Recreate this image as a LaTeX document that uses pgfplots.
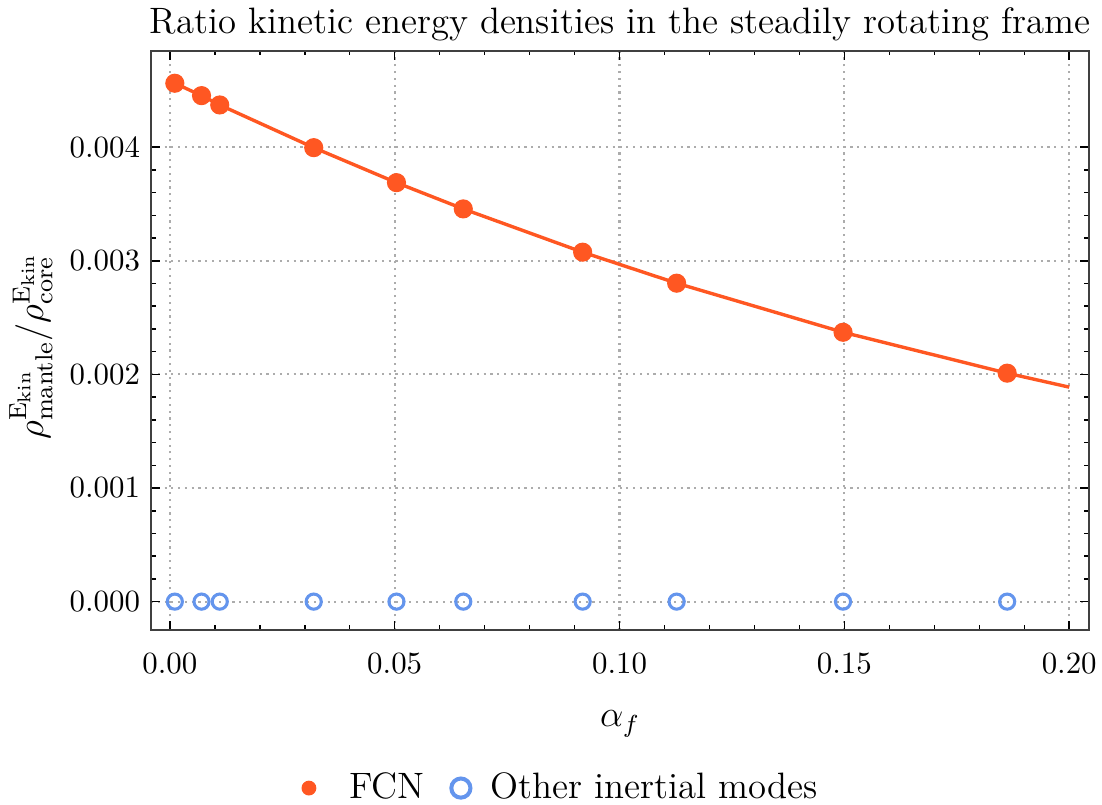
\documentclass[border=0pt]{standalone}
\usepackage{pgfplots}
\usepackage{pgfplotstable}
\pgfplotsset{compat=1.18}
\definecolor{fcn}{RGB}{255,87,34}
\definecolor{other}{RGB}{100,149,237}

% FCN kinetic-energy ratio
\pgfplotstableread{
x y
0.00111 0.004563
0.00705 0.004454
0.0111  0.004372
0.0320  0.003996
0.0504  0.003688
0.06525 0.003457
0.0918  0.003076
0.1127  0.002803
0.1497  0.002371
0.1862  0.002011
}\fcndata

% fitted curve
\pgfplotstableread{
x y
0.00111 0.004563
0.00705 0.004454
0.0111  0.004372
0.0320  0.003996
0.0504  0.003688
0.06525 0.003457
0.0918  0.003076
0.1127  0.002803
0.1497  0.002371
0.1862  0.002011
0.2000  0.001888
}\fitdata

% other inertial modes
\pgfplotstableread{
x y
0.00111 0
0.00705 0
0.0111  0
0.0320  0
0.0504  0
0.06525 0
0.0918  0
0.1127  0
0.1497  0
0.1862  0
}\otherdata

\newcommand{\lblfont}{\fontsize{11.9}{14.5}\selectfont}

\begin{document}
\begin{tikzpicture}
\begin{axis}[
    scale only axis,
    width=303.9pt, height=187.7pt,
    xmin=-0.0042, xmax=0.2044,
    ymin=-0.00025, ymax=0.00485,
    xtick={0,0.05,0.1,0.15,0.2},
    ytick={0,0.001,0.002,0.003,0.004},
    minor x tick num=4, minor y tick num=4,
    tick align=inside,
    major tick length=3pt, minor tick length=1.5pt,
    every tick/.style={black, line width=0.5pt},
    axis line style={black!75, line width=0.6pt},
    grid=major,
    major grid style={gray!65, line width=0.7pt, dash pattern=on 0.7pt off 1.5pt},
    scaled x ticks=false, scaled y ticks=false,
    xticklabel style={/pgf/number format/fixed, /pgf/number format/fixed zerofill,
        /pgf/number format/precision=2, yshift=-4pt},
    yticklabel style={/pgf/number format/fixed, /pgf/number format/fixed zerofill,
        /pgf/number format/precision=3},
    title={Ratio kinetic energy densities in the steadily rotating frame},
    title style={font=\lblfont, at={(axis description cs:0.5,1)}, anchor=base, yshift=-0.6pt},
    xlabel={$\alpha_f$},
    xlabel style={font=\lblfont, at={(axis description cs:0.5,0)}, anchor=base, yshift=-31.4pt},
    ylabel={$\rho^{\mathrm{E_{kin}}}_{\mathrm{mantle}}/\rho^{\mathrm{E_{kin}}}_{\mathrm{core}}$},
    ylabel style={font=\lblfont, at={(axis description cs:-0.1043,0.49)}, anchor=south, inner sep=0pt},
    legend style={at={(axis description cs:0.436,-0.2728)}, anchor=center, draw=none,
        font=\lblfont, legend columns=2, fill=none,
        /tikz/every even column/.append style={column sep=5.5pt}},
    legend cell align=left,
]
\addplot[fcn, line width=1.1pt, forget plot] table[x=x, y=y] {\fitdata};
\addplot[fcn, only marks, mark=*, mark size=2.9pt, mark options={fill=fcn, draw=fcn},
    legend image code/.code={\path (-4pt,0) (10.9pt,0); \fill[fcn] (0pt,0pt) circle (2.2pt);}]
    table[x=x, y=y] {\fcndata};
\addlegendentry{FCN}
\addplot[other, only marks, mark=o, mark size=2.45pt, mark options={draw=other, line width=1pt},
    legend image code/.code={\path (-4pt,0) (7.5pt,0); \draw[other, line width=1.3pt] (0pt,0pt) circle (3.1pt);}]
    table[x=x, y=y] {\otherdata};
\addlegendentry{Other inertial modes}
\end{axis}
\pgfresetboundingbox
\useasboundingbox (-48.9pt,-56.4pt) rectangle (308.1pt,204.1pt);
\end{tikzpicture}
\end{document}
